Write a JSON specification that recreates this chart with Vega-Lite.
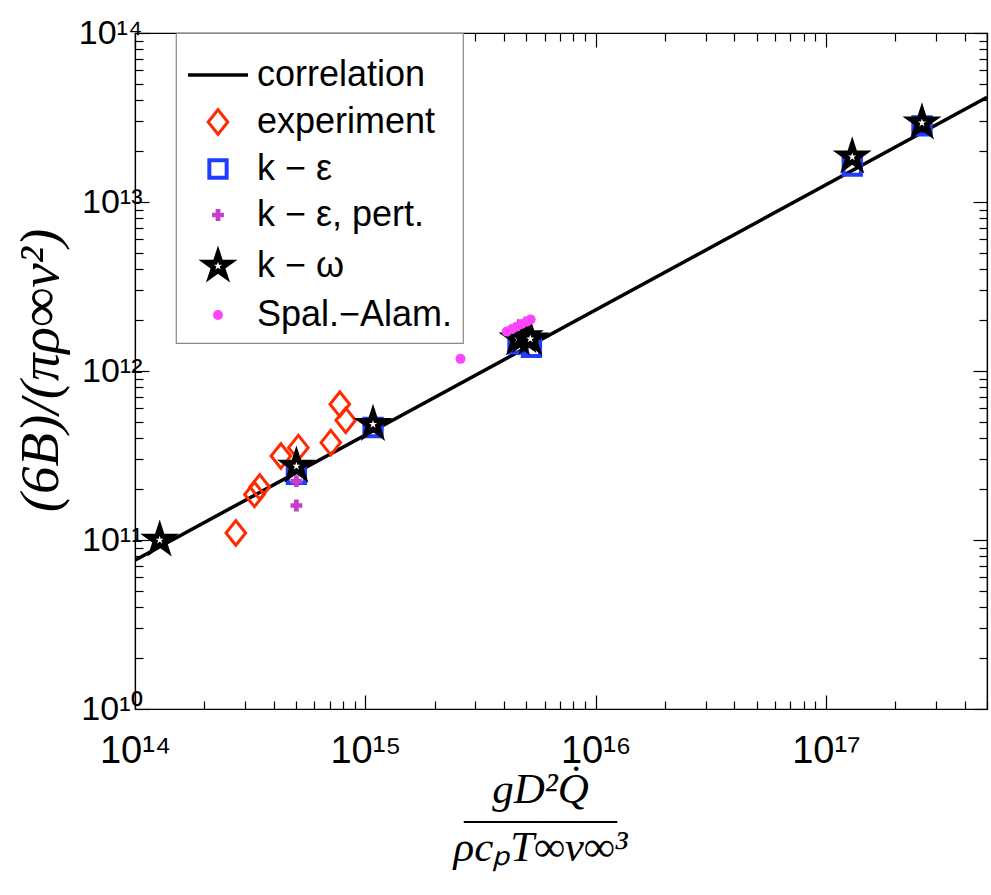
{
  "$schema": "https://vega.github.io/schema/vega-lite/v6.json",
  "width": 852,
  "height": 676,
  "autosize": {"type": "none"},
  "padding": {"left": 135, "top": 33, "right": 4, "bottom": 186},
  "background": "white",
  "config": {
    "view": {"stroke": "black", "strokeWidth": 1.2},
    "axis": {
      "grid": false,
      "domainColor": "black",
      "domainWidth": 1.2,
      "tickColor": "black",
      "tickWidth": 1.2,
      "labelColor": "black",
      "labelFont": "Liberation Sans",
      "labelFlush": false,
      "labelBound": false,
      "labelOverlap": false,
      "titleColor": "black",
      "titleFont": "Liberation Serif",
      "titleFontStyle": "italic",
      "titleFontWeight": "normal"
    },
    "legend": {
      "strokeColor": "#888888",
      "strokeWidth": 1.2,
      "fillColor": "white",
      "padding": 10,
      "labelFont": "Liberation Sans",
      "labelFontSize": 36,
      "labelColor": "black",
      "labelOffset": 7,
      "rowPadding": 10,
      "labelLimit": 400
    }
  },
  "datasets": {
    "corr": [
      {"x": 1e14, "y": 7.6e10},
      {"x": 5e17, "y": 4.16e13}
    ],
    "pts": [
      {"s": "experiment", "x": 2.74e14, "y": 1.10e11},
      {"s": "experiment", "x": 3.30e14, "y": 1.86e11},
      {"s": "experiment", "x": 3.48e14, "y": 2.06e11},
      {"s": "experiment", "x": 4.30e14, "y": 3.14e11},
      {"s": "experiment", "x": 5.12e14, "y": 3.52e11},
      {"s": "experiment", "x": 7.08e14, "y": 3.77e11},
      {"s": "experiment", "x": 7.75e14, "y": 6.36e11},
      {"s": "experiment", "x": 8.22e14, "y": 5.11e11},
      {"s": "k − ε", "x": 5.02e14, "y": 2.45e11},
      {"s": "k − ε", "x": 1.08e15, "y": 4.63e11},
      {"s": "k − ε", "x": 4.6e15, "y": 1.45e12},
      {"s": "k − ε", "x": 5.26e15, "y": 1.38e12},
      {"s": "k − ε", "x": 1.30e17, "y": 1.63e13},
      {"s": "k − ε", "x": 2.61e17, "y": 2.82e13},
      {"s": "k − ε, pert.", "x": 5.02e14, "y": 2.23e11},
      {"s": "k − ε, pert.", "x": 5.02e14, "y": 1.60e11},
      {"s": "k − ω", "x": 1.28e14, "y": 1.0e11},
      {"s": "k − ω", "x": 5.02e14, "y": 2.74e11},
      {"s": "k − ω", "x": 1.08e15, "y": 4.84e11},
      {"s": "k − ω", "x": 4.6e15, "y": 1.55e12},
      {"s": "k − ω", "x": 4.9e15, "y": 1.6e12},
      {"s": "k − ω", "x": 5.2e15, "y": 1.55e12},
      {"s": "k − ω", "x": 1.30e17, "y": 1.85e13},
      {"s": "k − ω", "x": 2.61e17, "y": 2.94e13},
      {"s": "Spal.−Alam.", "x": 2.59e15, "y": 1.18e12},
      {"s": "Spal.−Alam.", "x": 4.11e15, "y": 1.71e12},
      {"s": "Spal.−Alam.", "x": 4.33e15, "y": 1.77e12},
      {"s": "Spal.−Alam.", "x": 4.54e15, "y": 1.83e12},
      {"s": "Spal.−Alam.", "x": 4.77e15, "y": 1.90e12},
      {"s": "Spal.−Alam.", "x": 5.02e15, "y": 1.96e12},
      {"s": "Spal.−Alam.", "x": 5.22e15, "y": 2.02e12}
    ]
  },
  "layer": [
    {
      "data": {"name": "corr"},
      "mark": {"type": "line", "color": "black", "strokeWidth": 3.5, "clip": true},
      "encoding": {
        "x": {
          "field": "x", "type": "quantitative",
          "scale": {"type": "log", "domain": [1e14, 5e17], "nice": false},
          "axis": {
            "orient": "bottom",
            "values": [1e14,2e14,3e14,4e14,5e14,6e14,7e14,8e14,9e14,1e15,2e15,3e15,4e15,5e15,6e15,7e15,8e15,9e15,1e16,2e16,3e16,4e16,5e16,6e16,7e16,8e16,9e16,1e17,2e17,3e17,4e17,5e17],
            "labelExpr": "datum.value == 1e14 ? '10¹⁴' : datum.value == 1e15 ? '10¹⁵' : datum.value == 1e16 ? '10¹⁶' : datum.value == 1e17 ? '10¹⁷' : ''",
            "tickSize": {"condition": {"test": "abs(log(datum.value)/LN10 - round(log(datum.value)/LN10)) < 0.001", "value": -14}, "value": -8},
            "labelFontSize": 38,
            "labelPadding": 37,
            "title": ["gD²Q̇", "————", "ρcₚT∞ν∞³"],
            "titleFontSize": 43,
            "titleLineHeight": 29,
            "titleX": 405,
            "titleY": 80,
            "titleBaseline": "middle",
            "titleAlign": "center"
          }
        },
        "y": {
          "field": "y", "type": "quantitative",
          "scale": {"type": "log", "domain": [1e10, 1e14], "nice": false},
          "axis": {
            "orient": "left",
            "values": [1e10,2e10,3e10,4e10,5e10,6e10,7e10,8e10,9e10,1e11,2e11,3e11,4e11,5e11,6e11,7e11,8e11,9e11,1e12,2e12,3e12,4e12,5e12,6e12,7e12,8e12,9e12,1e13,2e13,3e13,4e13,5e13,6e13,7e13,8e13,9e13,1e14],
            "labelExpr": "datum.value == 1e10 ? '10¹⁰' : datum.value == 1e11 ? '10¹¹' : datum.value == 1e12 ? '10¹²' : datum.value == 1e13 ? '10¹³' : datum.value == 1e14 ? '10¹⁴' : ''",
            "tickSize": {"condition": {"test": "abs(log(datum.value)/LN10 - round(log(datum.value)/LN10)) < 0.001", "value": -14}, "value": -8},
            "labelFontSize": 34,
            "labelPadding": 7,
            "title": "(6B)/(πρ∞ν²)",
            "titleFontSize": 55,
            "titleX": -95,
            "titleY": 337,
            "titleBaseline": "middle",
            "titleAlign": "center"
          }
        }
      }
    },
    {
      "data": {"name": "pts"},
      "mark": {"type": "point", "opacity": 1, "strokeJoin": "miter"},
      "encoding": {
        "x": {
          "field": "x", "type": "quantitative",
          "scale": {"type": "log", "domain": [1e14, 5e17], "nice": false},
          "axis": {
            "orient": "top",
            "values": [1e14,2e14,3e14,4e14,5e14,6e14,7e14,8e14,9e14,1e15,2e15,3e15,4e15,5e15,6e15,7e15,8e15,9e15,1e16,2e16,3e16,4e16,5e16,6e16,7e16,8e16,9e16,1e17,2e17,3e17,4e17,5e17],
            "labels": false,
            "title": null,
            "tickSize": {"condition": {"test": "abs(log(datum.value)/LN10 - round(log(datum.value)/LN10)) < 0.001", "value": -14}, "value": -8}
          }
        },
        "y": {
          "field": "y", "type": "quantitative",
          "scale": {"type": "log", "domain": [1e10, 1e14], "nice": false},
          "axis": {
            "orient": "right",
            "values": [1e10,2e10,3e10,4e10,5e10,6e10,7e10,8e10,9e10,1e11,2e11,3e11,4e11,5e11,6e11,7e11,8e11,9e11,1e12,2e12,3e12,4e12,5e12,6e12,7e12,8e12,9e12,1e13,2e13,3e13,4e13,5e13,6e13,7e13,8e13,9e13,1e14],
            "labels": false,
            "title": null,
            "tickSize": {"condition": {"test": "abs(log(datum.value)/LN10 - round(log(datum.value)/LN10)) < 0.001", "value": -14}, "value": -8}
          }
        },
        "shape": {
          "field": "s", "type": "nominal",
          "scale": {
            "domain": ["correlation", "experiment", "k − ε", "k − ε, pert.", "k − ω", "Spal.−Alam."],
            "range": ["M-1,0L1,0", "M-0.8,0L0,-1L0.8,0L0,1Z", "square", "cross", "M0,-1L0.2245,-0.309L0.951,-0.309L0.363,0.118L0.588,0.809L0,0.382L-0.588,0.809L-0.363,0.118L-0.951,-0.309L-0.2245,-0.309Z", "circle"]
          },
          "legend": {"orient": "none", "legendX": 41, "legendY": 0, "title": null}
        },
        "fill": {
          "field": "s", "type": "nominal",
          "scale": {
            "domain": ["correlation", "experiment", "k − ε", "k − ε, pert.", "k − ω", "Spal.−Alam."],
            "range": ["transparent", "transparent", "transparent", "#c43fc9", "white", "#ff44ff"]
          },
          "legend": {"orient": "none", "legendX": 41, "legendY": 0, "title": null}
        },
        "stroke": {
          "field": "s", "type": "nominal",
          "scale": {
            "domain": ["correlation", "experiment", "k − ε", "k − ε, pert.", "k − ω", "Spal.−Alam."],
            "range": ["black", "#ff2a00", "#1f3cff", "#c43fc9", "black", "#ff44ff"]
          },
          "legend": {"orient": "none", "legendX": 41, "legendY": 0, "title": null}
        },
        "size": {
          "field": "s", "type": "nominal",
          "scale": {
            "type": "ordinal",
            "domain": ["correlation", "experiment", "k − ε", "k − ε, pert.", "k − ω", "Spal.−Alam."],
            "range": [3600, 600, 300, 140, 620, 100]
          },
          "legend": {"orient": "none", "legendX": 41, "legendY": 0, "title": null}
        },
        "strokeWidth": {
          "field": "s", "type": "nominal",
          "scale": {
            "type": "ordinal",
            "domain": ["correlation", "experiment", "k − ε", "k − ε, pert.", "k − ω", "Spal.−Alam."],
            "range": [3.5, 3, 4, 0, 5, 0]
          },
          "legend": {"orient": "none", "legendX": 41, "legendY": 0, "title": null}
        }
      }
    }
  ],
  "resolve": {"axis": {"x": "independent", "y": "independent"}}
}
